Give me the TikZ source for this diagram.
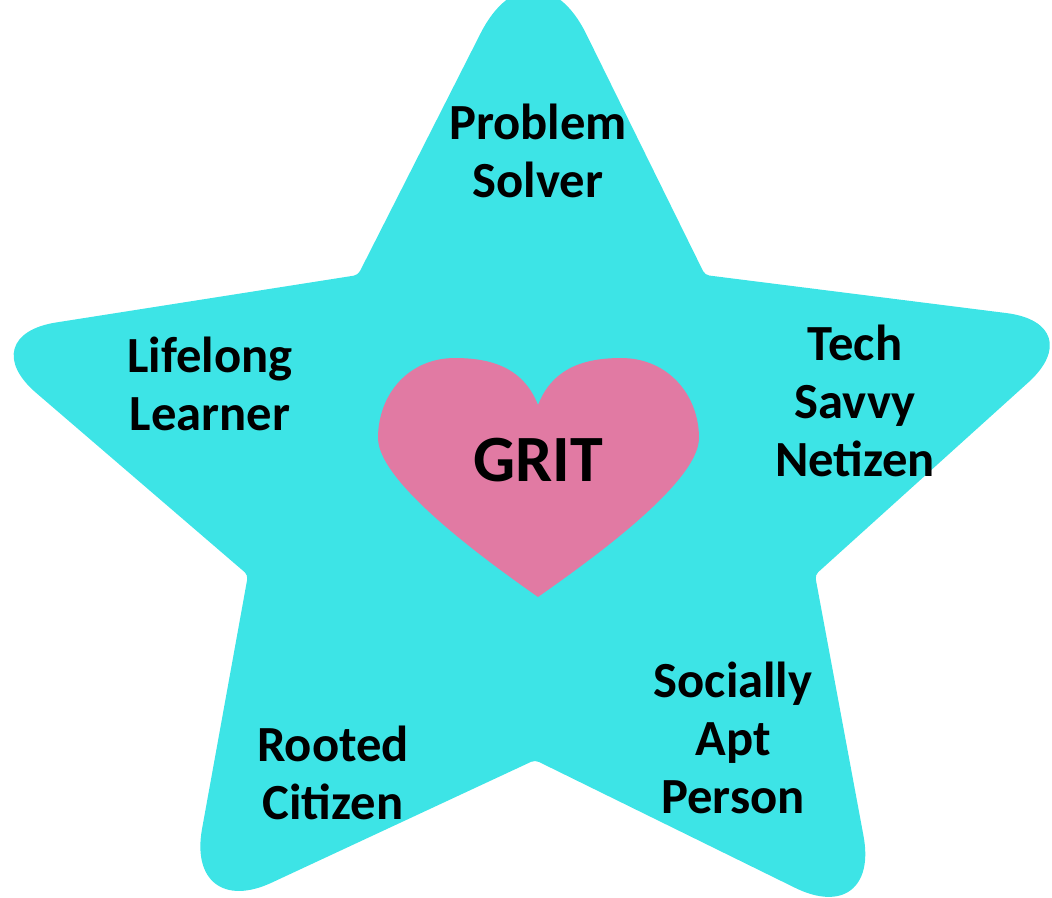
\documentclass[tikz,border=0pt]{standalone}
\usepackage{fontspec}
\setmainfont{Carlito}
\definecolor{starcyan}{RGB}{61,228,230}
\definecolor{heartpink}{RGB}{225,122,163}
\tikzset{
    lbl/.style={align=center, font=\bfseries\fontsize{36}{41.5}\selectfont, inner sep=0pt},
    big/.style={font=\bfseries\fontsize{47}{50}\selectfont, inner sep=0pt}
}
\begin{document}
\begin{tikzpicture}[x=0.025cm, y=-0.025cm]
    \useasboundingbox (0,0) rectangle (1052,897);
    \fill[starcyan] (358,275) [rounded corners=84pt] -- (534,-72) [rounded corners=3pt] -- (705,275)
        [rounded corners=62pt] -- (1093,324) [rounded corners=3pt] -- (815,575)
        [rounded corners=68pt] -- (881,930) [rounded corners=3pt] -- (535,760)
        [rounded corners=68pt] -- (185,923) [rounded corners=3pt] -- (248,575)
        [rounded corners=62pt] -- (-30,336) [rounded corners=3pt] -- cycle;
    \fill[heartpink] (538,405) .. controls (525,372) and (498,358) .. (455,358)
        .. controls (408,358) and (378,395) .. (378,438)
        .. controls (378,485) and (500,570) .. (538,597)
        .. controls (576,570) and (699,485) .. (699,438)
        .. controls (699,395) and (668,358) .. (621,358)
        .. controls (578,358) and (551,372) .. (538,405);
    \node[lbl] (ps) at (538,151) {Problem\\Solver};
    \node[lbl] (ll) at (210,384) {Lifelong\\Learner};
    \node[lbl] (tsn) at (855,401) {Tech\\Savvy\\Netizen};
    \node[big] (grit) at (538,460) {GRIT};
    \node[lbl] (sap) at (733,738) {Socially\\Apt\\Person};
    \node[lbl] (rc) at (333,773) {Rooted\\Citizen};
\end{tikzpicture}
\end{document}
